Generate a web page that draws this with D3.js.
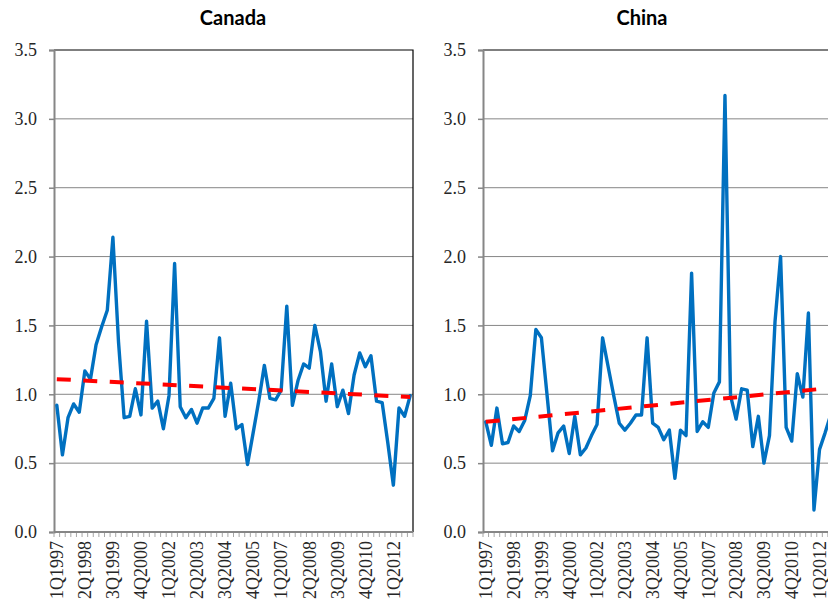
<!DOCTYPE html>
<html>
<head>
<meta charset="utf-8">
<script src="https://cdn.jsdelivr.net/npm/d3@7"></script>
<style>
  body { margin: 0; background: #fff; }
  svg { display: block; }
  .tick text { font-family: 'Liberation Serif', 'DejaVu Serif', serif; }
</style>
</head>
<body>
<svg id="chart" width="828" height="606"></svg>
<script>
// quarterly categories, 1Q1997 .. 4Q2012
var quarters = [];
for (var yr = 1997; yr <= 2012; yr++) {
    for (var q = 1; q <= 4; q++) { quarters.push(q + 'Q' + yr); }
}

var tickLabels = ['1Q1997', '2Q1998', '3Q1999', '4Q2000', '1Q2002', '2Q2003',
    '3Q2004', '4Q2005', '1Q2007', '2Q2008', '3Q2009', '4Q2010', '1Q2012'];
var yTicks = [0, 0.5, 1.0, 1.5, 2.0, 2.5, 3.0, 3.5];

var canadaValues = [0.92, 0.56, 0.83, 0.93, 0.87, 1.17, 1.11, 1.36, 1.49, 1.61,
    2.14, 1.38, 0.83, 0.84, 1.04, 0.85, 1.53, 0.90, 0.95, 0.75,
    0.99, 1.95, 0.91, 0.83, 0.89, 0.79, 0.90, 0.90, 0.97, 1.41,
    0.84, 1.08, 0.75, 0.78, 0.49, 0.72, 0.95, 1.21, 0.97, 0.96,
    1.03, 1.64, 0.92, 1.10, 1.22, 1.19, 1.50, 1.31, 0.95, 1.22,
    0.91, 1.03, 0.86, 1.14, 1.30, 1.20, 1.28, 0.95, 0.94, 0.65,
    0.34, 0.90, 0.84, 0.99];
var canadaTrend = [1.11, 0.98];

var chinaValues = [0.80, 0.63, 0.90, 0.64, 0.65, 0.77, 0.73, 0.81, 0.99, 1.47,
    1.41, 1.00, 0.59, 0.72, 0.77, 0.57, 0.84, 0.56, 0.61, 0.70,
    0.78, 1.41, 1.20, 0.99, 0.79, 0.74, 0.79, 0.85, 0.85, 1.41,
    0.79, 0.76, 0.67, 0.74, 0.39, 0.74, 0.70, 1.88, 0.73, 0.80,
    0.76, 1.01, 1.09, 3.17, 0.99, 0.82, 1.04, 1.03, 0.62, 0.84,
    0.50, 0.70, 1.53, 2.00, 0.76, 0.66, 1.15, 0.98, 1.59, 0.16,
    0.60, 0.72, 0.85, 0.88];
var chinaTrend = [0.80, 1.05];

var svg = d3.select('#chart');
var plotTop = 50, plotBottom = 532;
var gray = '#868686';
var serif = "'Liberation Serif', 'DejaVu Serif', serif";

function drawPanel(opts) {
    var x = d3.scaleBand().domain(quarters).range([opts.left, opts.right]);
    var y = d3.scaleLinear().domain([0, 3.5]).range([plotBottom, plotTop]);
    var cx = function(i) { return x(quarters[i]) + x.bandwidth() / 2; };
    var g = svg.append('g');

    // gridlines
    g.append('g').selectAll('line')
        .data(yTicks.filter(function(t) { return t > 0 && t < 3.5; }))
        .enter().append('line')
        .attr('x1', opts.left).attr('x2', opts.right)
        .attr('y1', function(t) { return y(t); })
        .attr('y2', function(t) { return y(t); })
        .attr('stroke', gray).attr('stroke-width', 1);

    // plot border (top + right)
    g.append('path')
        .attr('d', 'M' + opts.left + ',' + plotTop + 'H' + opts.right + 'V' + plotBottom)
        .attr('fill', 'none').attr('stroke', '#000').attr('stroke-width', 1.2);

    // y axis
    var yAxis = g.append('g')
        .attr('transform', 'translate(' + opts.left + ',0)')
        .call(d3.axisLeft(y).tickValues(yTicks).tickSize(5).tickPadding(12)
            .tickFormat(d3.format('.1f')));
    yAxis.attr('font-family', null);
    yAxis.select('.domain').attr('stroke', gray).attr('stroke-width', 2);
    yAxis.selectAll('.tick line').attr('stroke', gray).attr('stroke-width', 1.5);
    yAxis.selectAll('text').style('font-family', serif).style('font-size', '18px')
        .attr('fill', '#262626');

    // x axis labels
    var xAxis = g.append('g')
        .attr('transform', 'translate(0,' + plotBottom + ')')
        .call(d3.axisBottom(x).tickValues(tickLabels).tickSize(0));
    xAxis.attr('font-family', null);
    xAxis.select('.domain').remove();
    xAxis.selectAll('text')
        .style('font-family', serif).style('font-size', '18px').attr('fill', '#262626')
        .attr('text-anchor', 'end')
        .attr('x', -9).attr('y', 0).attr('dy', '0.35em')
        .attr('transform', 'rotate(-90)');

    // category tick marks
    g.append('g').selectAll('line')
        .data(quarters.concat(['end']))
        .enter().append('line')
        .attr('x1', function(d) { return d === 'end' ? opts.right : x(d); })
        .attr('x2', function(d) { return d === 'end' ? opts.right : x(d); })
        .attr('y1', plotBottom).attr('y2', plotBottom + 5)
        .attr('stroke', '#a6a6a6').attr('stroke-width', 1);
    g.append('line')
        .attr('x1', opts.left).attr('x2', opts.right)
        .attr('y1', plotBottom).attr('y2', plotBottom)
        .attr('stroke', gray).attr('stroke-width', 2);

    // data line
    g.append('path')
        .datum(opts.values)
        .attr('fill', 'none').attr('stroke', '#0070C0')
        .attr('stroke-width', 3.4).attr('stroke-linejoin', 'round')
        .attr('stroke-linecap', 'round')
        .attr('d', d3.line().x(function(d, i) { return cx(i); })
            .y(function(d) { return y(d); }));

    // linear trend
    var last = quarters.length - 1;
    g.append('line')
        .attr('x1', cx(0)).attr('y1', y(opts.trend[0]))
        .attr('x2', cx(last)).attr('y2', y(opts.trend[1]))
        .attr('stroke', '#FF0000').attr('stroke-width', 4)
        .attr('stroke-dasharray', '14,12.5');

    // title
    svg.append('text')
        .attr('x', opts.titleX).attr('y', 25)
        .attr('text-anchor', 'middle')
        .style('font-family', "Lato, 'Open Sans', sans-serif")
        .attr('font-weight', 700).attr('font-size', 20)
        .attr('fill', '#000')
        .text(opts.title);
}

drawPanel({ title: 'Canada', values: canadaValues, trend: canadaTrend,
    left: 54, right: 413, titleX: 233 });
drawPanel({ title: 'China', values: chinaValues, trend: chinaTrend,
    left: 483, right: 839, titleX: 642 });
</script>
</body>
</html>
